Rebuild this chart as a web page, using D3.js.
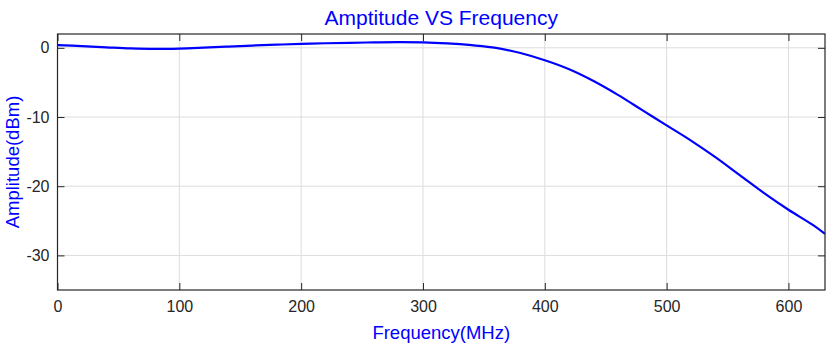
<!DOCTYPE html>
<html>
<head>
<meta charset="utf-8">
<script src="https://cdn.jsdelivr.net/npm/d3@7"></script>
<style>
  html, body { margin: 0; padding: 0; background: #fff; }
  svg { display: block; font-family: "Liberation Sans", Arial, Helvetica, sans-serif; }
</style>
</head>
<body>
<svg id="chart" width="836" height="343"></svg>
<script>
// Data
const frequencyMHz = [0, 20, 40, 60, 80, 100, 120, 140, 160, 180, 200, 220, 240, 260, 280, 300, 320, 340, 360, 380, 400, 420, 440, 460, 480, 500, 520, 540, 560, 580, 600, 620, 630];
const amplitudeDbm = [0.38, 0.25, 0.08, -0.08, -0.15, -0.1, 0.03, 0.18, 0.33, 0.46, 0.57, 0.66, 0.73, 0.79, 0.83, 0.8, 0.64, 0.38, 0.0, -0.75, -1.8, -3.1, -4.8, -6.8, -9.0, -11.2, -13.4, -15.8, -18.4, -21.0, -23.4, -25.6, -26.9];
const xTicks = [0, 100, 200, 300, 400, 500, 600];
const yTicks = [0, -10, -20, -30];
const titleText = "Amptitude VS Frequency";
const xLabel = "Frequency(MHz)";
const yLabel = "Amplitude(dBm)";

const svg = d3.select("#chart");
const L = 57.5, R = 825, T = 34, B = 290;
const x = d3.scaleLinear().domain([0, 630]).range([L, R]);
const y = d3.scaleLinear().domain([-35, 2]).range([B, T]);
const axisColor = "#262626";
const gridColor = "#dcdcdc";
const blue = "#0000ff";

// Grid
const grid = svg.append("g");
grid.selectAll("line.gx").data(xTicks.filter(d => d > 0)).join("line")
  .attr("x1", d => x(d)).attr("x2", d => x(d)).attr("y1", T).attr("y2", B)
  .attr("stroke", gridColor).attr("stroke-width", 1);
grid.selectAll("line.gy").data(yTicks).join("line")
  .attr("x1", L).attr("x2", R).attr("y1", d => y(d)).attr("y2", d => y(d))
  .attr("stroke", gridColor).attr("stroke-width", 1);

// Line
const line = d3.line().x((d, i) => x(frequencyMHz[i])).y(d => y(d)).curve(d3.curveCatmullRom.alpha(0.5));
svg.append("path").datum(amplitudeDbm)
  .attr("d", line).attr("fill", "none").attr("stroke", blue).attr("stroke-width", 2.2);

// Axes
const tl = 7;
const fmt = d => String(d);
const xb = d3.axisBottom(x).tickValues(xTicks).tickSize(-tl).tickPadding(11).tickFormat(fmt);
const xt = d3.axisTop(x).tickValues(xTicks).tickSize(-tl).tickFormat("");
const yl = d3.axisLeft(y).tickValues(yTicks).tickSize(-tl).tickPadding(8).tickFormat(fmt);
const yr = d3.axisRight(y).tickValues(yTicks).tickSize(-tl).tickFormat("");

function styleAxis(g) {
  g.select(".domain").remove();
  g.selectAll(".tick line").attr("stroke", axisColor);
  g.selectAll(".tick text").attr("fill", axisColor).style("font-size", "16px")
    .style("font-family", "'Liberation Sans', Arial, sans-serif");
}
svg.append("g").attr("transform", `translate(0,${B})`).call(xb).call(styleAxis);
svg.append("g").attr("transform", `translate(0,${T})`).call(xt).call(styleAxis);
svg.append("g").attr("transform", `translate(${L},0)`).call(yl).call(styleAxis);
svg.append("g").attr("transform", `translate(${R},0)`).call(yr).call(styleAxis);

// Box
svg.append("rect").attr("x", L).attr("y", T).attr("width", R - L).attr("height", B - T)
  .attr("fill", "none").attr("stroke", axisColor).attr("stroke-width", 1.2);

// Texts
svg.append("text").attr("x", (L + R) / 2).attr("y", 25).attr("text-anchor", "middle")
  .attr("fill", blue).style("font-size", "21px").text(titleText);
svg.append("text").attr("x", (L + R) / 2).attr("y", 339).attr("text-anchor", "middle")
  .attr("fill", blue).style("font-size", "18.5px").text(xLabel);
svg.append("text").attr("transform", `translate(19,${(T + B) / 2}) rotate(-90)`).attr("text-anchor", "middle")
  .attr("fill", blue).style("font-size", "18.5px").text(yLabel);
</script>
</body>
</html>
